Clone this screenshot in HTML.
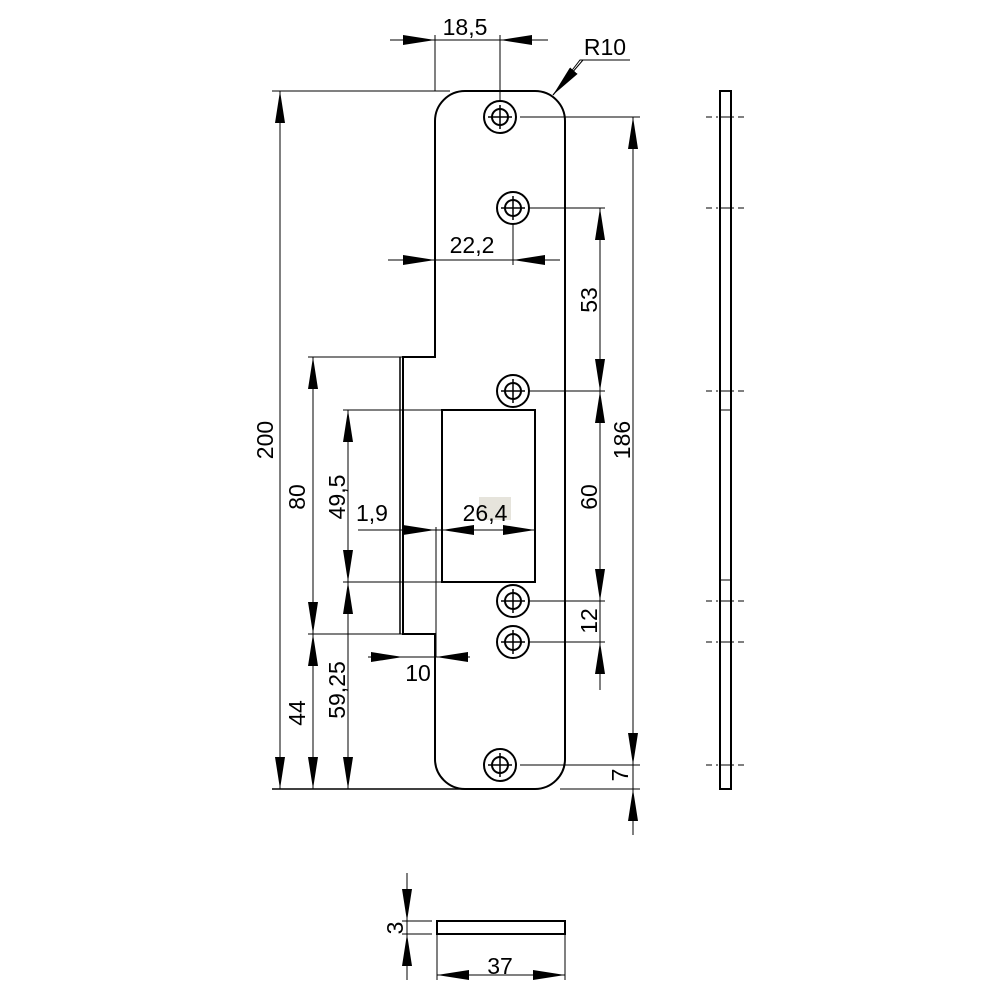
<!DOCTYPE html>
<html><head><meta charset="utf-8"><style>html,body{margin:0;padding:0;background:#fff}svg{display:block}text{font-family:"Liberation Sans",sans-serif;font-size:23px;fill:#000}</style></head><body>
<svg width="1005" height="1005" viewBox="0 0 1005 1005" xmlns="http://www.w3.org/2000/svg">
<defs>
<marker id="a" viewBox="0 0 32 10" refX="32" refY="5" markerWidth="32" markerHeight="10" orient="auto-start-reverse" markerUnits="userSpaceOnUse"><path d="M0,0L32,5L0,10z" fill="#000"/></marker>
<g id="h"><circle r="16" fill="#fff" stroke="#000" stroke-width="2"/><circle r="8" fill="none" stroke="#000" stroke-width="2"/><path d="M-12,0H12M0,-12V12" stroke="#000" stroke-width="1.5"/></g>
</defs>
<rect x="479" y="497" width="32" height="23" fill="#e6e4dc"/>
<g fill="none" stroke="#000" stroke-width="1">
<path d="M272,91H450M435,35V91M500,35V117M308,357H403M343,410H442M343,582H442M308,634H403M513,208V265M520,117H640M530,208H605M530,391H605M530,601H605M530,642H605M520,765H640M560,789H640M436,527V657M402,921H432M402,934H432M437,934V980M565,934V980"/>
<path d="M553,95L580,60H630"/>
<path d="M280,91V789" marker-start="url(#a)" marker-end="url(#a)"/>
<path d="M313,357V634" marker-start="url(#a)" marker-end="url(#a)"/>
<path d="M313,634V789" marker-start="url(#a)" marker-end="url(#a)"/>
<path d="M348,410V582" marker-start="url(#a)" marker-end="url(#a)"/>
<path d="M348,582V789" marker-start="url(#a)" marker-end="url(#a)"/>
<path d="M390,40H548"/><path d="M390,40H435" marker-end="url(#a)"/><path d="M548,40H500" marker-end="url(#a)"/>
<path d="M388,260H560"/><path d="M388,260H435" marker-end="url(#a)"/><path d="M560,260H513" marker-end="url(#a)"/>
<path d="M358,530H442"/><path d="M358,530H435" marker-end="url(#a)"/>
<path d="M442,530H535" marker-start="url(#a)" marker-end="url(#a)"/>
<path d="M368,657H470"/><path d="M368,657H403" marker-end="url(#a)"/><path d="M470,657H436" marker-end="url(#a)"/>
<path d="M600,208V391" marker-start="url(#a)" marker-end="url(#a)"/>
<path d="M600,391V601" marker-start="url(#a)" marker-end="url(#a)"/>
<path d="M600,601V690"/><path d="M600,690V642" marker-end="url(#a)"/>
<path d="M633,117V765" marker-start="url(#a)" marker-end="url(#a)"/>
<path d="M633,765V835"/><path d="M633,835V789" marker-end="url(#a)"/>
<path d="M407,873V980"/><path d="M407,873V921" marker-end="url(#a)"/><path d="M407,980V934" marker-end="url(#a)"/>
<path d="M437,975H565" marker-start="url(#a)" marker-end="url(#a)"/>
</g>
<path d="M583,60L553,95" stroke="#000" marker-end="url(#a)"/>
<path d="M272,789H465" stroke="#000" stroke-width="1.5"/>
<path d="M465,91H535A30,30 0 0 1 565,121V759A30,30 0 0 1 535,789H465A30,30 0 0 1 435,759V634H403V357H435V121A30,30 0 0 1 465,91Z" fill="none" stroke="#000" stroke-width="2"/>
<path d="M400,357V634" stroke="#000" stroke-width="1.5"/>
<rect x="442" y="410" width="93" height="172" fill="none" stroke="#000" stroke-width="2"/>
<use href="#h" x="500" y="117"/><use href="#h" x="513" y="208"/><use href="#h" x="513" y="391"/><use href="#h" x="513" y="601"/><use href="#h" x="513" y="642"/><use href="#h" x="500" y="765"/>
<rect x="720" y="91" width="11" height="698" fill="none" stroke="#000" stroke-width="2"/>
<path d="M720,410H731M720,580H731M720,117H731M720,208H731M720,391H731M720,601H731M720,642H731M720,765H731" stroke="#000"/>
<g stroke="#000" stroke-dasharray="6,4,2,4"><path d="M706,117H746M706,208H746M706,391H746M706,601H746M706,642H746M706,765H746"/></g>
<rect x="437" y="921" width="128" height="13" fill="none" stroke="#000" stroke-width="2"/>
<text x="465" y="35" text-anchor="middle">18,5</text>
<text x="605" y="55" text-anchor="middle">R10</text>
<text x="472" y="253" text-anchor="middle">22,2</text>
<text x="372" y="521" text-anchor="middle">1,9</text>
<text x="485" y="521" text-anchor="middle">26,4</text>
<text x="418" y="681" text-anchor="middle">10</text>
<text x="500" y="974" text-anchor="middle">37</text>
<g text-anchor="middle">
<text transform="translate(273,440) rotate(-90)">200</text>
<text transform="translate(305,497) rotate(-90)">80</text>
<text transform="translate(345,497) rotate(-90)">49,5</text>
<text transform="translate(305,713) rotate(-90)">44</text>
<text transform="translate(345,690) rotate(-90)">59,25</text>
<text transform="translate(597,300) rotate(-90)">53</text>
<text transform="translate(597,497) rotate(-90)">60</text>
<text transform="translate(597,621) rotate(-90)">12</text>
<text transform="translate(630,440) rotate(-90)">186</text>
<text transform="translate(628,775) rotate(-90)">7</text>
<text transform="translate(403,928) rotate(-90)">3</text>
</g>
</svg>
</body></html>
